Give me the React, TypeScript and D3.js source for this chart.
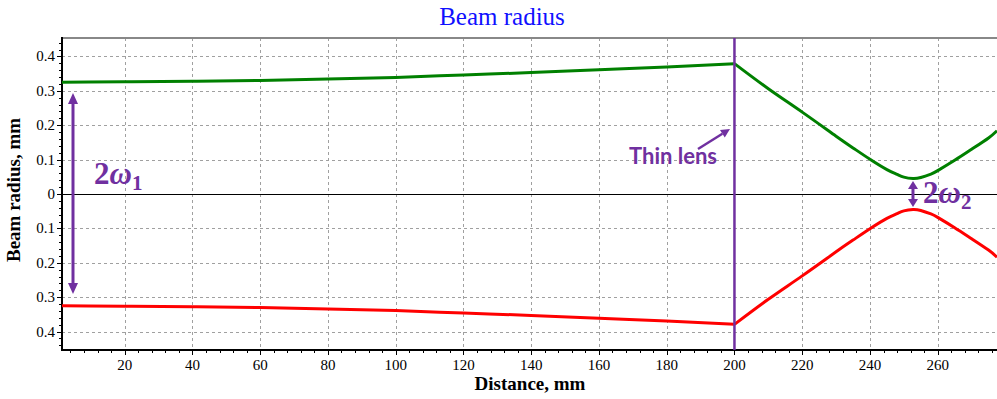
import React from "react";
import * as d3 from "d3";

// ---- data ----
const distanceBeforeLens = [1.5, 20, 40, 60, 80, 100, 120, 140, 160, 180, 200];
const radiusBeforeLens = [0.325, 0.326, 0.328, 0.330, 0.334, 0.339, 0.346, 0.353, 0.361, 0.369, 0.379];
const distanceAfterLens = [200, 210, 220, 230, 235, 240, 245, 248, 250, 252.7, 255, 258, 260, 265, 270, 275, 277.5];
const radiusAfterLens = [0.379, 0.306, 0.238, 0.168, 0.134, 0.101, 0.071, 0.057, 0.049, 0.045, 0.048, 0.058, 0.068, 0.098, 0.130, 0.163, 0.184];
const xTicks = [20, 40, 60, 80, 100, 120, 140, 160, 180, 200, 220, 240, 260];
const yTicks = [-0.4, -0.3, -0.2, -0.1, 0, 0.1, 0.2, 0.3, 0.4];
const lensPosition = 200;
const waistPosition = 252.7;

const W = 997, H = 399;
const L = 62, R = 997, T = 38, B = 350;
const PURPLE = "#7030a0";
const SERIF = "'Liberation Serif', 'Times New Roman', serif";

export default function App() {
  const x = d3.scaleLinear().domain([1.5, 277.5]).range([L, R]);
  const y = d3.scaleLinear().domain([-0.4535, 0.4535]).range([B, T]);
  const px = (v: number) => Math.round(v) + 0.5;

  const before = distanceBeforeLens.map((d, i) => [d, radiusBeforeLens[i]] as [number, number]);
  const after = distanceAfterLens.map((d, i) => [d, radiusAfterLens[i]] as [number, number]);

  const upperLin = d3.line<[number, number]>().x(d => x(d[0])).y(d => y(d[1])).curve(d3.curveMonotoneX);
  const lowerLin = d3.line<[number, number]>().x(d => x(d[0])).y(d => y(-d[1])).curve(d3.curveMonotoneX);
  const upperSm = d3.line<[number, number]>().x(d => x(d[0])).y(d => y(d[1])).curve(d3.curveNatural);
  const lowerSm = d3.line<[number, number]>().x(d => x(d[0])).y(d => y(-d[1])).curve(d3.curveNatural);

  const xMinor = d3.range(4, 278, 4);
  const yMinor = d3.range(-0.44, 0.4401, 0.02);

  const fmt = (v: number) => (Math.abs(v) < 1e-9 ? "0" : Math.abs(v).toFixed(1));

  const lx = x(lensPosition);
  const wx = x(waistPosition);
  const a1x = 73, a1top = 93, a1bot = 294;
  const a2top = 181, a2bot = 207;

  const arrowHead = (tipX: number, tipY: number, dir: number, len: number, half: number) =>
    `M${tipX},${tipY} L${tipX - half},${tipY - dir * len} L${tipX + half},${tipY - dir * len} Z`;

  // thin lens arrow
  const tx0 = 698, ty0 = 149, tx1 = 730, ty1 = 129;
  const ang = Math.atan2(ty1 - ty0, tx1 - tx0);
  const hl = 9, hw = 4.5;
  const bx = tx1 - hl * Math.cos(ang), by = ty1 - hl * Math.sin(ang);
  const headPts = `${tx1},${ty1} ${bx - hw * Math.sin(ang)},${by + hw * Math.cos(ang)} ${bx + hw * Math.sin(ang)},${by - hw * Math.cos(ang)}`;

  return (
    <svg width={W} height={H} style={{ position: "absolute", left: 0, top: 0, background: "#fff" }}>
      <rect x={0} y={0} width={W} height={H} fill="#fff" />
      {/* title */}
      <text x={502} y={25} textAnchor="middle" fontFamily={SERIF} fontSize={25} fill="#1010ff">Beam radius</text>

      {/* grid */}
      <g shapeRendering="crispEdges">
        {xTicks.map(t => (
          <line key={"gx" + t} x1={px(x(t))} x2={px(x(t))} y1={T} y2={B} stroke="#a0a0a0" strokeDasharray="3,3" strokeWidth={1} />
        ))}
        {yTicks.filter(t => t !== 0).map(t => (
          <line key={"gy" + t} x1={L} x2={R} y1={px(y(t))} y2={px(y(t))} stroke="#a0a0a0" strokeDasharray="3,3" strokeWidth={1} />
        ))}
        <line x1={L} x2={R} y1={px(y(0))} y2={px(y(0))} stroke="#000" strokeWidth={1} />

        {/* frame */}
        <line x1={L} x2={R} y1={T} y2={T} stroke="#888" strokeWidth={2} />
        <line x1={L} x2={L} y1={T - 1} y2={B + 1} stroke="#000" strokeWidth={2} />
        <line x1={L - 1} x2={R} y1={B} y2={B} stroke="#000" strokeWidth={2} />

        {/* y ticks */}
        {yMinor.map((t, i) => (
          <line key={"ym" + i} x1={L - 3} x2={L} y1={px(y(t))} y2={px(y(t))} stroke="#000" strokeWidth={1} />
        ))}
        {yTicks.map(t => (
          <line key={"ytl" + t} x1={L - 5} x2={L} y1={px(y(t))} y2={px(y(t))} stroke="#000" strokeWidth={1} />
        ))}
        {/* x ticks */}
        {xMinor.map(t => (
          <line key={"xm" + t} x1={px(x(t))} x2={px(x(t))} y1={B} y2={B + 3} stroke="#000" strokeWidth={1} />
        ))}
        {xTicks.map(t => (
          <line key={"xtl" + t} x1={px(x(t))} x2={px(x(t))} y1={B} y2={B + 5} stroke="#000" strokeWidth={1} />
        ))}
      </g>
      {yTicks.map(t => (
        <text key={"yt" + t} x={55} y={y(t) + 5} textAnchor="end" fontFamily={SERIF} fontSize={15} fill="#000">{fmt(t)}</text>
      ))}
      {xTicks.map(t => (
        <text key={"xt" + t} x={x(t)} y={370} textAnchor="middle" fontFamily={SERIF} fontSize={15} fill="#000">{t}</text>
      ))}

      {/* axis titles */}
      <text x={530} y={390} textAnchor="middle" fontFamily={SERIF} fontWeight="bold" fontSize={19} fill="#000">Distance, mm</text>
      <text transform={`translate(20,190) rotate(-90)`} textAnchor="middle" fontFamily={SERIF} fontWeight="bold" fontSize={19} fill="#000">Beam radius, mm</text>

      {/* curves */}
      <path d={upperLin(before) || ""} fill="none" stroke="#008000" strokeWidth={3} />
      <path d={upperSm(after) || ""} fill="none" stroke="#008000" strokeWidth={3} />
      <path d={lowerLin(before) || ""} fill="none" stroke="#ff0000" strokeWidth={3} />
      <path d={lowerSm(after) || ""} fill="none" stroke="#ff0000" strokeWidth={3} />

      {/* lens */}
      <line x1={lx} x2={lx} y1={T} y2={B} stroke={PURPLE} strokeWidth={2.5} />

      {/* 2w1 arrow */}
      <line x1={a1x} x2={a1x} y1={a1top + 8} y2={a1bot - 8} stroke={PURPLE} strokeWidth={3} />
      <path d={arrowHead(a1x, a1top, -1, 11, 5)} fill={PURPLE} />
      <path d={arrowHead(a1x, a1bot, 1, 11, 5)} fill={PURPLE} />
      <text x={94} y={184} fontFamily={SERIF} fontWeight="bold" fontSize={31} fill={PURPLE}>
        2<tspan fontStyle="italic">ω</tspan><tspan fontSize={21} dy={6}>1</tspan>
      </text>

      {/* 2w2 arrow */}
      <line x1={wx} x2={wx} y1={a2top + 6} y2={a2bot - 6} stroke={PURPLE} strokeWidth={3} />
      <path d={arrowHead(wx, a2top, -1, 8, 5)} fill={PURPLE} />
      <path d={arrowHead(wx, a2bot, 1, 8, 5)} fill={PURPLE} />
      <text x={923} y={203} fontFamily={SERIF} fontWeight="bold" fontSize={31} fill={PURPLE}>
        2<tspan fontStyle="italic">ω</tspan><tspan fontSize={21} dy={6}>2</tspan>
      </text>

      {/* thin lens label */}
      <text x={629} y={164} fontFamily="Lato, 'Open Sans', sans-serif" fontWeight="bold" fontSize={22} fill={PURPLE}>Thin lens</text>
      <line x1={tx0} y1={ty0} x2={bx} y2={by} stroke={PURPLE} strokeWidth={2.5} />
      <polygon points={headPts} fill={PURPLE} />
    </svg>
  );
}
